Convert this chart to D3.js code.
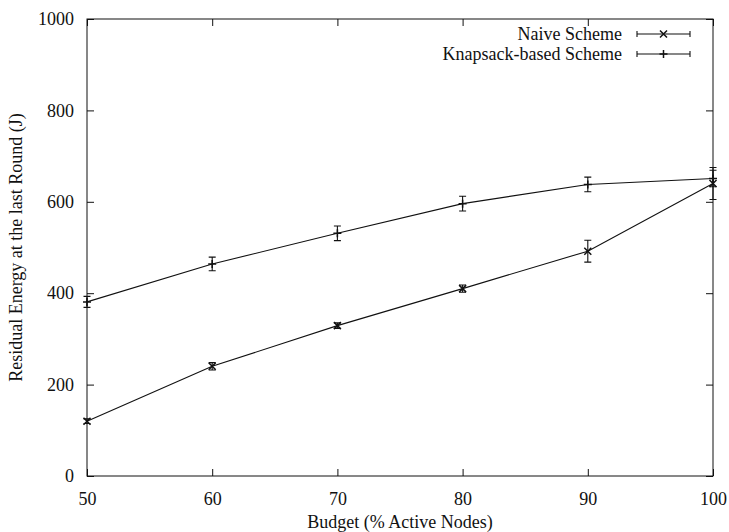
<!DOCTYPE html>
<html>
<head>
<meta charset="utf-8">
<script src="https://cdn.jsdelivr.net/npm/d3@7"></script>
<style>
    body { margin: 0; background: #fff; }
    svg text { font-family: "Liberation Serif", "DejaVu Serif", serif; fill: #111; }
</style>
</head>
<body>
<div class="chart"></div>
<script>
// budget (% active nodes)
const budgets = [50, 60, 70, 80, 90, 100];
// residual energy at the last round (J)
const naiveMean = [120, 240, 329, 410, 492, 640];
const naiveErr = [5, 8, 6, 8, 24, 35];
const knapMean = [381, 464, 531, 596, 638, 651];
const knapErr = [12, 15, 16, 16, 16, 18];
const xTicks = [50, 60, 70, 80, 90, 100];
const yTicks = [0, 200, 400, 600, 800, 1000];
const seriesNames = ['Naive Scheme', 'Knapsack-based Scheme'];

const W = 729, H = 532;
const margin = { top: 19, right: 16, bottom: 56, left: 87 };
const width = W - margin.left - margin.right;
const height = H - margin.top - margin.bottom;

const svg = d3.select('.chart').append('svg')
    .attr('width', W)
    .attr('height', H);

const g = svg.append('g')
    .attr('transform', `translate(${margin.left},${margin.top})`);

const x = d3.scaleLinear().domain([50, 100]).range([0, width]);
const y = d3.scaleLinear().domain([0, 1000]).range([height, 0]);

// inward ticks on all four sides (gnuplot style)
const tick = 7;
const axisStyle = (sel) => {
    sel.attr('font-family', null).attr('font-size', null);
    sel.select('.domain').remove();
    sel.selectAll('line').attr('stroke', '#111').attr('stroke-width', 1);
    sel.selectAll('text').style('font-size', '18px');
};

g.append('g')
    .attr('transform', `translate(0,${height})`)
    .call(d3.axisBottom(x).tickValues(xTicks).tickSize(-tick).tickPadding(16).tickFormat(d3.format('d')))
    .call(axisStyle);

g.append('g')
    .call(d3.axisTop(x).tickValues(xTicks).tickSize(-tick).tickFormat(''))
    .call(axisStyle);

g.append('g')
    .call(d3.axisLeft(y).tickValues(yTicks).tickSize(-tick).tickPadding(13).tickFormat(d3.format('d')))
    .call(axisStyle);

g.append('g')
    .attr('transform', `translate(${width},0)`)
    .call(d3.axisRight(y).tickValues(yTicks).tickSize(-tick).tickFormat(''))
    .call(axisStyle);

g.append('rect')
    .attr('width', width)
    .attr('height', height)
    .attr('fill', 'none')
    .attr('stroke', '#111')
    .attr('stroke-width', 1);

// axis labels
svg.append('text')
    .attr('x', margin.left + width / 2)
    .attr('y', H - 4)
    .attr('text-anchor', 'middle')
    .style('font-size', '18px')
    .text('Budget (% Active Nodes)');

svg.append('text')
    .attr('transform', `translate(22,${margin.top + height / 2}) rotate(-90)`)
    .attr('text-anchor', 'middle')
    .style('font-size', '18px')
    .text('Residual Energy at the last Round (J)');

const cap = 3.5;
const mk = 3.5;

function drawMarker(sel, cx, cy, type) {
    if (type === 'x') {
        sel.append('path')
            .attr('d', `M${cx - mk},${cy - mk}L${cx + mk},${cy + mk}M${cx - mk},${cy + mk}L${cx + mk},${cy - mk}`);
    } else {
        sel.append('path')
            .attr('d', `M${cx - mk - 0.5},${cy}L${cx + mk + 0.5},${cy}M${cx},${cy - mk - 0.5}L${cx},${cy + mk + 0.5}`);
    }
}

function drawSeries(means, errs, type) {
    const data = budgets.map((b, i) => ({ b: b, m: means[i], e: errs[i] }));
    const sg = g.append('g').attr('stroke', '#111').attr('fill', 'none');

    const line = d3.line()
        .x((d) => x(d.b))
        .y((d) => y(d.m));
    sg.append('path')
        .datum(data)
        .attr('d', line)
        .attr('stroke-width', 1.1);

    data.forEach((d) => {
        const cx = x(d.b);
        const y0 = y(d.m - d.e);
        const y1 = y(d.m + d.e);
        sg.append('path')
            .attr('stroke-width', 1.1)
            .attr('d', `M${cx},${y0}L${cx},${y1}M${cx - cap},${y0}L${cx + cap},${y0}M${cx - cap},${y1}L${cx + cap},${y1}`);
        drawMarker(sg.append('g').attr('stroke-width', 1.5), cx, y(d.m), type);
    });
}

drawSeries(naiveMean, naiveErr, 'x');
drawSeries(knapMean, knapErr, '+');

// legend
const legend = svg.append('g');
const types = ['x', '+'];
seriesNames.forEach((name, i) => {
    const ly = 34 + i * 20;
    legend.append('text')
        .attr('x', 622)
        .attr('y', ly)
        .attr('dy', '0.33em')
        .attr('text-anchor', 'end')
        .style('font-size', '18px')
        .text(name);
    const lg = legend.append('g').attr('stroke', '#111').attr('fill', 'none');
    lg.append('path')
        .attr('stroke-width', 1.1)
        .attr('d', `M637,${ly}L690,${ly}M637,${ly - 3}L637,${ly + 3}M690,${ly - 3}L690,${ly + 3}`);
    drawMarker(lg.append('g').attr('stroke-width', 1.5), 663.5, ly, types[i]);
});
</script>
</body>
</html>
